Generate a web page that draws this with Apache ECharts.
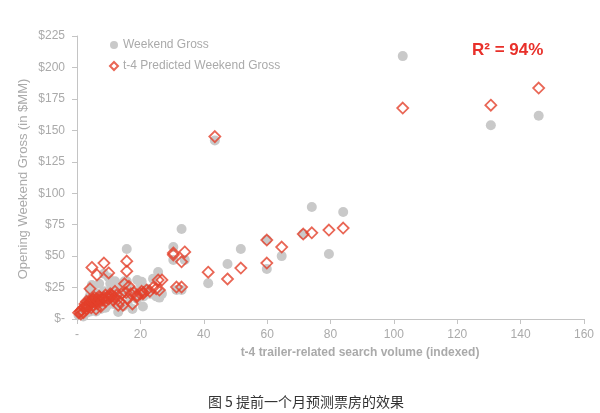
<!DOCTYPE html>
<html>
<head>
<meta charset="utf-8">
<script src="https://cdn.jsdelivr.net/npm/echarts@6/dist/echarts.min.js"></script>
<style>html,body{margin:0;padding:0;background:#fff;}#c{width:600px;height:413px;}</style>
</head>
<body>
<div id="c"></div>
<script>
// search volume (x), actual weekend gross, t-4 predicted gross
const searchVolume = [102.8,130.6,145.7,43.5,74.1,84,71.4,79.5,59.9,64.6,59.9,51.7,47.5,41.4,33,30.4,34,31.4,33,30.4,15.7,15.7,4.7,8.5,6.3,10,25.6,26.8,20.4,4.1,20.8,13,
  0.5,1,1.5,2,2,2.5,3,3,3.5,4,4,4.5,5,5,5.5,6,6,6.5,7,7,7.5,8,8.5,9,9,10,10.5,11,11.5,12,12.5,13.5,14,14.5,15,15.5,16,17,17.5,18,19,20,21,22,23,24,25,26,16.4,19,
  1.2,2.8,3.2,3.8,4.2,4.8,5.2,5.8,6.2,6.8,7.3,8.2,9.5,10.2,11,12];
const weekendGross = [209,154,161.6,142,89,85,67.5,51.7,62.8,50,39.7,55.6,43.7,28.4,71.5,57.3,47,23,23,47,55.6,30,27,36,20,33,37.4,20,29.6,23,10,5.6,
  3,6,4,8,2,10,5,12,15,9,18,7,25,12,14,6,20,10,28,16,8,12,22,18,9,14,28,24,12,30,16,20,25,10,30,20,12,18,8,22,16,28,18,24,20,32,18,17,24,31,
  4,7,9,11,6,13,16,10,15,12,18,9,11,20,16,12];
const predictedGross = [167.7,170,183.6,145,68.5,72.3,67.5,70.7,62.8,57.2,44.5,40.5,31.8,37.2,45.5,52.5,53.3,25.4,25.4,51,46,38,41,44.5,35,36.6,31,31,22,24,20,11,
  5,6,7,9,5,12,8,14,10,15,13,9,16,11,17,8,14,12,15,18,10,16,17,14,19,16,20,18,15,22,19,14,20,11,28,21,16,20,12,21,18,20,21,23,22,25,24,23,26,19,
  4,10,11,13,12,14,15,13,16,14,17,15,17,18,19,17];
const xTicks = {min:0, max:160, interval:20};
const yTicks = {min:0, max:225, interval:25};
const legendNames = ['Weekend Gross','t-4 Predicted Weekend Gross'];

const actualData = searchVolume.map((x,i)=>[x, weekendGross[i]]);
const predData = searchVolume.map((x,i)=>[x, predictedGross[i]]);
const grey = '#aaaaaa';
const font = 'Liberation Sans, Arial, sans-serif';

const chart = echarts.init(document.getElementById('c'));
chart.setOption({
  animation:false,
  textStyle:{fontFamily:font},
  grid:{left:77,right:16,top:36,bottom:94},
  legend:{
    orient:'vertical', left:104, top:34, itemWidth:8, itemHeight:8, itemGap:9,
    data:legendNames,
    textStyle:{color:grey, fontSize:12, fontFamily:font}
  },
  xAxis:{
    type:'value', min:xTicks.min, max:xTicks.max, interval:xTicks.interval,
    axisLine:{show:true, lineStyle:{color:'#c4c4c4', width:1}},
    axisTick:{show:true, length:5, lineStyle:{color:'#c4c4c4'}},
    splitLine:{show:false},
    axisLabel:{color:grey, fontSize:12, margin:10, fontFamily:font, formatter:v=> v===0?'-':String(v)}
  },
  yAxis:{
    type:'value', min:yTicks.min, max:yTicks.max, interval:yTicks.interval,
    axisLine:{show:true, lineStyle:{color:'#c4c4c4', width:1}},
    axisTick:{show:true, length:5, lineStyle:{color:'#c4c4c4'}},
    splitLine:{show:false},
    axisLabel:{color:grey, fontSize:12, margin:12, fontFamily:font, formatter:v=> v===0?'$-':'$'+v}
  },
  series:[
    {name:legendNames[0], type:'scatter', symbol:'circle', symbolSize:10, data:actualData,
     itemStyle:{color:'#c9c9c9', opacity:1}, z:2},
    {name:legendNames[1], type:'scatter', symbol:'diamond', symbolSize:11, data:predData,
     itemStyle:{color:'rgba(255,255,255,0)', borderColor:'#e4402b', borderWidth:1.8}, z:3}
  ],
  graphic:[
    {type:'text', left:472, top:42, style:{text:'R² = 94%', fill:'#e8302a', font:'bold 17px '+font}},
    {type:'text', x:360, y:353, style:{text:'t-4 trailer-related search volume (indexed)', fill:grey, font:'bold 12px '+font, textAlign:'center', textVerticalAlign:'middle'}},
    {type:'text', x:23, y:179, rotation:Math.PI/2, style:{text:'Opening Weekend Gross (in $MM)', fill:grey, font:'13px '+font, textAlign:'center', textVerticalAlign:'middle'}},
    {type:'text', x:306, y:402, style:{text:'图 5 提前一个月预测票房的效果', fill:'#333', font:'14px "Noto Sans CJK SC", sans-serif', textAlign:'center', textVerticalAlign:'middle'}}
  ]
});
</script>
</body>
</html>
